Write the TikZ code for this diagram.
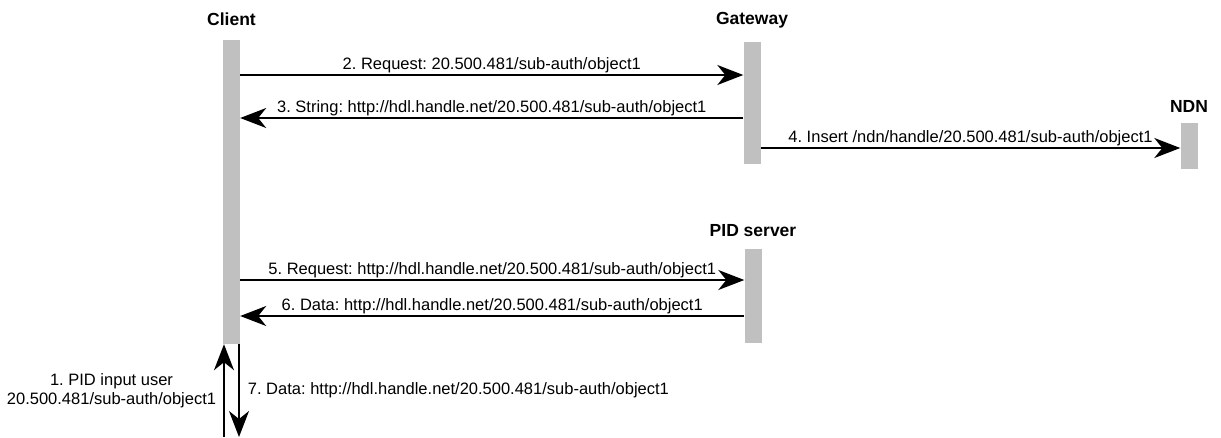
\documentclass[tikz,border=0pt]{standalone}
\usepackage{fontspec}
\setmainfont{Liberation Sans}
\usetikzlibrary{arrows.meta, positioning}
\definecolor{lifegray}{RGB}{192,192,192}
\frenchspacing

\begin{document}
\begin{tikzpicture}[x=1pt, y=-1pt,
  lifebar/.style={fill=lifegray, draw=none, minimum width=17pt, inner sep=0pt},
  actor/.style={font=\fontsize{17.5}{20}\selectfont\bfseries, inner sep=0pt},
  msg/.style={line width=1.8pt, -{Stealth[length=26pt, width=20pt, inset=8pt]}},
  lbl/.style={font=\fontsize{16.5}{19}\selectfont, inner sep=1pt}]
\useasboundingbox (0,0) rectangle (1221,437);

% lifelines
\node[lifebar, minimum height=304.5pt] (client) at (231.5,191.75) {};
\node[lifebar, minimum height=122pt] (gateway) at (752,103) {};
\node[lifebar, minimum height=46pt] (ndn) at (1189,146) {};
\node[lifebar, minimum height=94pt] (pid) at (753,296) {};

\node[actor, above=13pt of client] (clientname) {Client};
\node[actor, above=13pt of gateway] (gatewayname) {Gateway};
\node[actor, above=10pt of ndn] (ndnname) {NDN};
\node[actor, above=12pt of pid] (pidname) {PID server};

% messages
\draw[msg] (client.east |- 0,75) -- (gateway.west |- 0,75)
  node[lbl, midway, above] (m2) {2. Request: 20.500.481/sub-auth/object1};
\draw[msg] (gateway.west |- 0,118) -- (client.east |- 0,118)
  node[lbl, midway, above] (m3) {3. String: http://hdl.handle.net/20.500.481/sub-auth/object1};
\draw[msg] (gateway.east |- 0,148) -- (ndn.west |- 0,148)
  node[lbl, midway, above] (m4) {4. Insert /ndn/handle/20.500.481/sub-auth/object1};
\draw[msg] (client.east |- 0,280) -- (pid.west |- 0,280)
  node[lbl, midway, above] (m5) {5. Request: http://hdl.handle.net/20.500.481/sub-auth/object1};
\draw[msg] (pid.west |- 0,316) -- (client.east |- 0,316)
  node[lbl, midway, above] (m6) {6. Data: http://hdl.handle.net/20.500.481/sub-auth/object1};

% user in and out
\coordinate (userin) at (224,437);
\coordinate (userout) at (239,437);
\draw[msg] (userin) -- (userin |- client.south)
  node[lbl, midway, left=6pt, align=center] (m1) {1. PID input user\\20.500.481/sub-auth/object1};
\draw[msg] (userout |- client.south) -- (userout)
  node[lbl, midway, right=7pt] (m7) {7. Data: http://hdl.handle.net/20.500.481/sub-auth/object1};

\end{tikzpicture}
\end{document}
